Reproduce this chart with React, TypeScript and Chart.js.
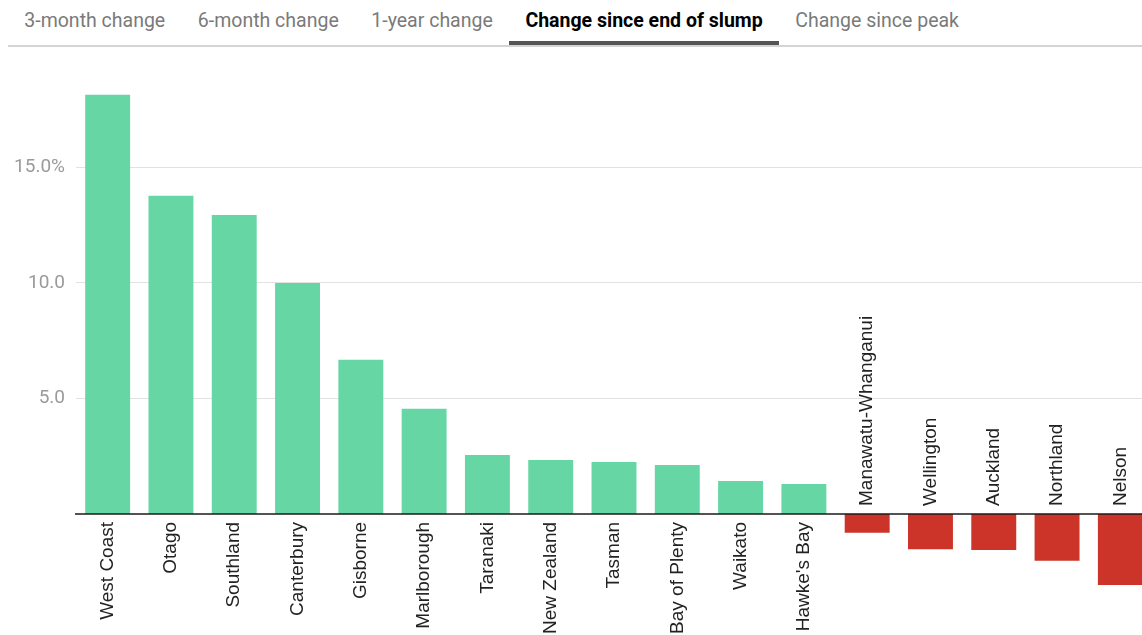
import React, { useEffect, useRef } from "react";
import { Chart, registerables } from "chart.js";

Chart.register(...registerables);

const tabs = ["3-month change", "6-month change", "1-year change", "Change since end of slump", "Change since peak"];
const activeTab = 3;

const regions = [
  "West Coast", "Otago", "Southland", "Canterbury", "Gisborne", "Marlborough",
  "Taranaki", "New Zealand", "Tasman", "Bay of Plenty", "Waikato", "Hawke's Bay",
  "Manawatu-Whanganui", "Wellington", "Auckland", "Northland", "Nelson",
];
const changeSinceSlump = [
  18.14, 13.77, 12.94, 10.0, 6.67, 4.55,
  2.55, 2.34, 2.25, 2.12, 1.43, 1.3,
  -0.81, -1.53, -1.56, -2.02, -3.07,
];
const yTicks = [5, 10, 15];

const GREEN = "#66d7a4";
const RED = "#cc3329";

const labelPlugin = {
  id: "barLabels",
  afterDatasetsDraw(chart: any) {
    const ctx = chart.ctx;
    const y = chart.scales.y;
    const area = chart.chartArea;
    const zeroY = y.getPixelForValue(0);
    ctx.save();
    ctx.strokeStyle = "#1a1a1a";
    ctx.lineWidth = 1.5;
    ctx.beginPath();
    ctx.moveTo(area.left - 1, zeroY);
    ctx.lineTo(area.right, zeroY);
    ctx.stroke();
    ctx.restore();

    const meta = chart.getDatasetMeta(0);
    ctx.save();
    ctx.font = "19px 'Liberation Sans', Arial, sans-serif";
    ctx.fillStyle = "#222";
    ctx.textBaseline = "middle";
    meta.data.forEach((bar: any, i: number) => {
      const v = changeSinceSlump[i];
      ctx.save();
      if (v >= 0) {
        ctx.translate(bar.x, zeroY + 8);
        ctx.rotate(-Math.PI / 2);
        ctx.textAlign = "right";
      } else {
        ctx.translate(bar.x, zeroY - 8);
        ctx.rotate(-Math.PI / 2);
        ctx.textAlign = "left";
      }
      ctx.fillText(regions[i], 0, 0);
      ctx.restore();
    });
    ctx.restore();
  },
};

function BarChart() {
  const ref = useRef<HTMLCanvasElement>(null);
  useEffect(() => {
    if (!ref.current) return;
    const chart = new Chart(ref.current, {
      type: "bar",
      data: {
        labels: regions,
        datasets: [
          {
            data: changeSinceSlump,
            backgroundColor: changeSinceSlump.map((v) => (v >= 0 ? GREEN : RED)),
            borderWidth: 0,
            categoryPercentage: 1,
            barPercentage: 0.71,
          },
        ],
      },
      options: {
        animation: false,
        responsive: false,
        maintainAspectRatio: false,
        layout: { padding: { top: 25, bottom: 5.5, left: 0, right: 0 } },
        plugins: { legend: { display: false }, tooltip: { enabled: false } },
        scales: {
          x: { display: false },
          y: {
            min: -5,
            max: 19,
            afterBuildTicks: (scale: any) => {
              scale.ticks = yTicks.map((v) => ({ value: v }));
            },
            afterFit: (scale: any) => {
              scale.width = 76;
              scale.paddingTop = 0;
              scale.paddingBottom = 0;
            },
            border: { display: false },
            grid: { color: "#e2e2e2", lineWidth: 1, drawTicks: false },
            ticks: {
              padding: 11,
              color: "#9a9a9a",
              font: { family: "Roboto", size: 19 },
              callback: (v: any) => (v === 15 ? "15.0%" : Number(v).toFixed(1)),
            },
          },
        },
      },
      plugins: [labelPlugin],
    });
    return () => chart.destroy();
  }, []);
  return (
    <canvas
      ref={ref}
      width={1152}
      height={585}
      style={{ position: "absolute", left: 0, top: 50, width: 1152, height: 585 }}
    />
  );
}

export default function App() {
  return (
    <div
      style={{
        position: "fixed",
        left: 0,
        top: 0,
        width: 1142,
        height: 635,
        overflow: "hidden",
        background: "#fff",
        fontFamily: "Roboto, sans-serif",
      }}
    >
      <div
        style={{
          position: "absolute",
          left: 8,
          top: 0,
          right: 0,
          height: 45,
          display: "flex",
          borderBottom: "2px solid #d4d4d4",
        }}
      >
        {tabs.map((t, i) => (
          <div
            key={t}
            style={{
              padding: "0 16.3px",
              height: i === activeTab ? 41 : 45,
              lineHeight: "41px",
              fontSize: 19.5,
              whiteSpace: "nowrap",
              color: i === activeTab ? "#000" : "#7a7a7a",
              fontWeight: i === activeTab ? 700 : 400,
              borderBottom: i === activeTab ? "4px solid #555" : "none",
            }}
          >
            {t}
          </div>
        ))}
      </div>
      <BarChart />
    </div>
  );
}
